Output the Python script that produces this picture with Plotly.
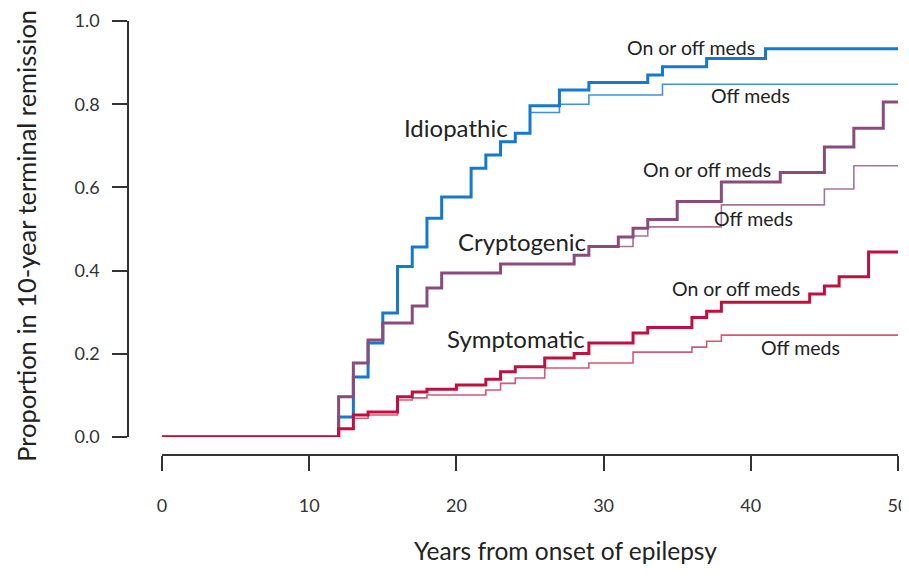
import plotly.graph_objects as go

# step times (years) and cumulative proportions
idio_t = [0, 12, 13, 14, 15, 16, 17, 18, 19, 21, 22, 23, 24, 25, 27, 29, 33, 34, 37, 41, 50]
idio_all = [0, 0.048, 0.144, 0.226, 0.298, 0.41, 0.457, 0.526, 0.577, 0.646, 0.678, 0.71, 0.73,
            0.796, 0.834, 0.852, 0.87, 0.89, 0.91, 0.933, 0.933]
idio_off = [0, 0.048, 0.144, 0.226, 0.298, 0.41, 0.457, 0.526, 0.577, 0.646, 0.678, 0.71, 0.73,
            0.78, 0.80, 0.822, 0.822, 0.848, 0.848, 0.848, 0.848]

crypt_t = [0, 12, 13, 14, 15, 17, 18, 19, 23, 28, 29, 31, 32, 33, 35, 38, 42, 45, 47, 49, 50]
crypt_all = [0, 0.097, 0.178, 0.233, 0.274, 0.315, 0.358, 0.394, 0.416, 0.437, 0.458, 0.481,
             0.502, 0.523, 0.566, 0.613, 0.636, 0.697, 0.742, 0.805, 0.805]
crypt_off = [0, 0.097, 0.178, 0.233, 0.274, 0.315, 0.358, 0.394, 0.416, 0.437, 0.458, 0.458,
             0.483, 0.505, 0.505, 0.558, 0.558, 0.596, 0.652, 0.652, 0.652]

symp_t = [0, 12, 13, 14, 16, 17, 18, 20, 22, 23, 24, 26, 28, 29, 32, 33, 36, 37, 38, 44, 45, 46, 48, 50]
symp_all = [0, 0.02, 0.053, 0.06, 0.097, 0.108, 0.115, 0.125, 0.139, 0.157, 0.169, 0.19, 0.201,
            0.226, 0.25, 0.263, 0.287, 0.302, 0.324, 0.344, 0.363, 0.385, 0.445, 0.445]
symp_off = [0, 0.02, 0.045, 0.053, 0.089, 0.094, 0.101, 0.101, 0.113, 0.129, 0.142, 0.166, 0.166,
            0.178, 0.204, 0.204, 0.216, 0.23, 0.245, 0.245, 0.245, 0.245, 0.245, 0.245]

x_ticks = [0, 10, 20, 30, 40, 50]
y_ticks = [0.0, 0.2, 0.4, 0.6, 0.8, 1.0]

FONT = "Lato, Open Sans, sans-serif"

fig = go.Figure()

series = [
    (idio_t, idio_off, "#3d93dc", 1.6),
    (idio_t, idio_all, "#1479cf", 3),
    (crypt_t, crypt_off, "#a77598", 1.6),
    (crypt_t, crypt_all, "#8a4c7d", 3),
    (symp_t, symp_off, "#d25a78", 1.6),
    (symp_t, symp_all, "#bf1040", 3),
]
for t, v, c, w in series:
    fig.add_trace(go.Scatter(x=t, y=v, mode="lines", line=dict(shape="hv", color=c, width=w),
                             showlegend=False, hoverinfo="skip", cliponaxis=False))

labels = [
    ("Idiopathic", 20.0, 0.743, 24),
    ("Cryptogenic", 24.46, 0.471, 24),
    ("Symptomatic", 24.05, 0.236, 24),
    ("On or off meds", 35.94, 0.9375, 19.5),
    ("On or off meds", 37.02, 0.642, 19.5),
    ("On or off meds", 39.0, 0.358, 19.5),
    ("Off meds", 39.95, 0.822, 19.5),
    ("Off meds", 40.2, 0.526, 19.5),
    ("Off meds", 43.4, 0.216, 19.5),
]
for txt, x, y, s in labels:
    fig.add_annotation(x=x, y=y, text=txt, showarrow=False, xref="x", yref="y",
                       font=dict(size=s, color="#222222", family=FONT))

fig.add_annotation(x=0.5688, y=-0.258, xref="paper", yref="paper",
                   text="Years from onset of epilepsy", showarrow=False,
                   font=dict(size=24.5, color="#222222", family=FONT))
fig.add_annotation(x=-0.1545, y=0.505, xref="paper", yref="paper",
                   text="Proportion in 10-year terminal remission", showarrow=False, textangle=-90,
                   font=dict(size=25.5, color="#222222", family=FONT))

# page body has an 8px margin, so the figure is 8px smaller than the window
fig.update_layout(
    template="none",
    width=901, height=570,
    margin=dict(l=120, r=11, t=13, b=123),
    plot_bgcolor="white", paper_bgcolor="white",
    font=dict(family=FONT, color="#333333"),
    xaxis=dict(range=[0, 50], domain=[34 / 770, 1], anchor="free", position=0,
               tickvals=x_ticks, ticktext=[str(v) for v in x_ticks], automargin=False,
               showline=True, linecolor="#333333", linewidth=1.5,
               ticks="outside", ticklen=15, tickwidth=1.5, tickcolor="#333333",
               showgrid=False, zeroline=False, ticklabelstandoff=20,
               tickfont=dict(size=18, color="#333333")),
    yaxis=dict(range=[0, 1], domain=[18 / 434, 1], anchor="free", position=0,
               tickvals=y_ticks, ticktext=["%.1f" % v for v in y_ticks], automargin=False,
               showline=True, linecolor="#333333", linewidth=1.5,
               ticks="outside", ticklen=15, tickwidth=1.5, tickcolor="#333333",
               showgrid=False, zeroline=False, ticklabelstandoff=9,
               tickfont=dict(size=18, color="#333333")),
)

fig.write_html("out.html")
